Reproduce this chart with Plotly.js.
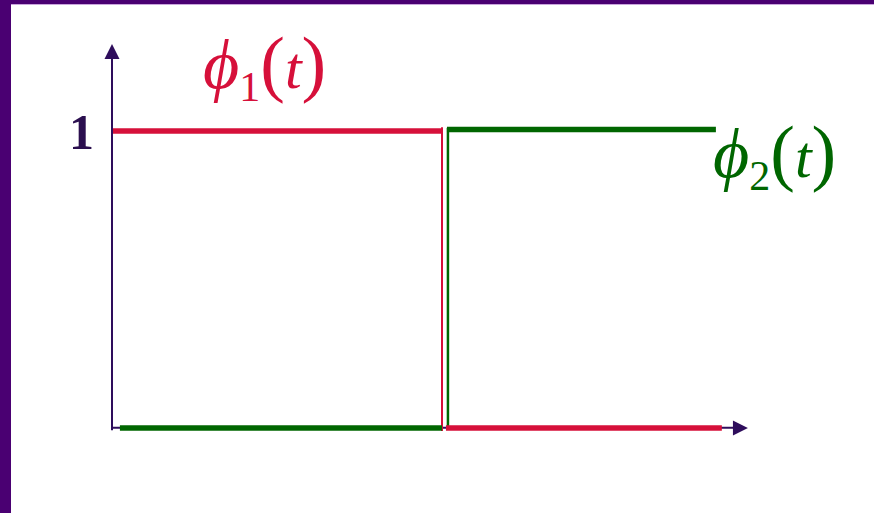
<!DOCTYPE html>
<html><head><meta charset="utf-8">
<script src="https://cdn.plot.ly/plotly-3.0.1.min.js"></script>
<style>html,body{margin:0;padding:0;background:#fff;overflow:hidden}</style>
</head><body><div id="chart" style="width:874px;height:513px"></div>
<script>
// time in units of T/2, amplitudes
const phi1HighT = [0, 0.997];
const phi1HighV = [1, 1];
const phi1EdgeT = [1.0, 1.0];
const phi1EdgeV = [1.013, -0.01];
const phi1LowT = [1.012, 1.848];
const phi1LowV = [0, 0];
const phi2LowT = [0.024, 1.0];
const phi2LowV = [0, 0];
const phi2EdgeT = [1.018, 1.018];
const phi2EdgeV = [0, 1.01];
const phi2HighT = [1.015, 1.830];
const phi2HighV = [1.005, 1.005];
const yTickVals = [1];
const yTickText = ['1'];
const xAxisEnd = 1.927;
const yAxisEnd = 1.293;
const yAxisStart = -0.013;
const xAxisLine = [0, 1.90];
const xAxisLineV = [0.001, 0.001];

const RED = '#d6103a', GREEN = '#006600', AX = '#2e0d5c', BORDER = '#4a0072';
const thick = 5.5, thin = 2;

function seg(x, y, color, w) {
  return {x: x, y: y, type: 'scatter', mode: 'lines', hoverinfo: 'skip',
          line: {color: color, width: w}, showlegend: false};
}
const data = [
  seg(xAxisLine, xAxisLineV, AX, 2),
  seg(phi2EdgeT, phi2EdgeV, GREEN, 2.5),
  seg(phi1EdgeT, phi1EdgeV, RED, thin),
  seg(phi1HighT, phi1HighV, RED, thick),
  seg(phi1LowT, phi1LowV, RED, thick),
  seg(phi2LowT, phi2LowV, GREEN, thick),
  seg(phi2HighT, phi2HighV, GREEN, thick)
];

const W = 874, H = 513;
const x0 = -112/330, x1 = x0 + W/330;
const y1 = 428/297, y0 = y1 - H/297;

function label(n) {
  return '<span style="font-size:70px"><i>ϕ</i></span><sub>' + n + '</sub>' +
         '<span style="font-size:74px">(</span><i>t</i><span style="font-size:74px">)</span>';
}

const layout = {
  width: W, height: H,
  margin: {l: 0, r: 0, t: 0, b: 0, pad: 0},
  paper_bgcolor: '#fff', plot_bgcolor: '#fff',
  xaxis: {range: [x0, x1], visible: false, fixedrange: true},
  yaxis: {range: [y0, y1], anchor: 'free', position: 112/W, showgrid: false, zeroline: false,
          showline: false, ticks: '', tickvals: yTickVals, ticktext: yTickText,
          ticklabelstandoff: 18,
          tickfont: {family: 'Liberation Serif', size: 50, weight: 'bold', color: '#2b0f4f'}, fixedrange: true},
  shapes: [
    {type: 'rect', xref: 'paper', yref: 'paper', x0: 0, x1: 11/W, y0: 0, y1: 1, fillcolor: BORDER, line: {width: 0}, layer: 'above'},
    {type: 'rect', xref: 'paper', yref: 'paper', x0: 0, x1: 1, y0: 1 - 4/H, y1: 1, fillcolor: BORDER, line: {width: 0}, layer: 'above'},
    {type: 'line', xref: 'paper', yref: 'paper', x0: 11/W, x1: 1, y0: 1 - 4.5/H, y1: 1 - 4.5/H, line: {color: '#c9a6dc', width: 1}, layer: 'above'}
  ],
  annotations: [
    {x: xAxisEnd, y: 0, ax: 1.88, ay: 0, xref: 'x', yref: 'y', axref: 'x', ayref: 'y', text: '',
     showarrow: true, arrowhead: 2, arrowsize: 1.5, arrowwidth: 2, arrowcolor: AX},
    {x: 0, y: yAxisEnd, ax: 0, ay: yAxisStart, xref: 'x', yref: 'y', axref: 'x', ayref: 'y', text: '',
     showarrow: true, arrowhead: 2, arrowsize: 1.5, arrowwidth: 2, arrowcolor: AX},
    {x: 201/W, y: 1 - 66/H, xref: 'paper', yref: 'paper', xanchor: 'left', yanchor: 'middle', showarrow: false,
     text: label(1), font: {family: 'Liberation Serif', size: 60, color: RED}},
    {x: 711/W, y: 1 - 155/H, xref: 'paper', yref: 'paper', xanchor: 'left', yanchor: 'middle', showarrow: false,
     text: label(2), font: {family: 'Liberation Serif', size: 60, color: GREEN}}
  ]
};
Plotly.newPlot('chart', data, layout, {staticPlot: true, displayModeBar: false});
</script></body></html>
